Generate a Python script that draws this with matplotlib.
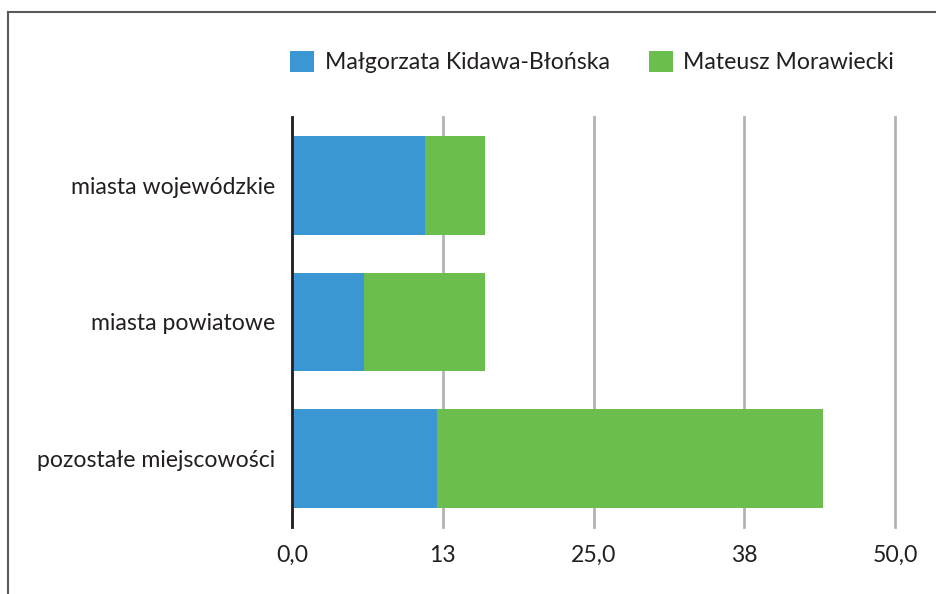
import matplotlib
matplotlib.use("Agg")
import matplotlib.pyplot as plt
from matplotlib.lines import Line2D

categories = ["miasta wojewódzkie", "miasta powiatowe", "pozostałe miejscowości"]
kidawa = [11, 6, 12]
morawiecki = [5, 10, 32]
series_names = ["Małgorzata Kidawa-Błońska", "Mateusz Morawiecki"]
xticks = [0, 12.5, 25, 37.5, 50]
xtick_labels = ["0,0", "13", "25,0", "38", "50,0"]

BLUE = "#3A97D4"
GREEN = "#6BBD4E"
GRID = "#B3B3B6"
TXT = "#231F20"

plt.rcParams['font.family'] = ['Lato', 'DejaVu Sans']
FS = 16.6

fig = plt.figure(figsize=(9.37, 5.94), dpi=100)
ax = fig.add_axes([292/937, 1-527/594, (895-292)/937, (527-117)/594])

y = list(range(len(categories)))
ax.barh(y, kidawa, height=0.72, color=BLUE, zorder=3, label=series_names[0])
ax.barh(y, morawiecki, left=kidawa, height=0.72, color=GREEN, zorder=3, label=series_names[1])

ax.set_xlim(0, 50)
ax.set_ylim(2.5, -0.5)
ax.set_yticks(y)
ax.set_yticklabels(categories, fontsize=FS, color=TXT)
ax.set_xticks(xticks)
ax.set_xticklabels(xtick_labels, fontsize=FS, color=TXT)
ax.tick_params(axis='both', length=0)
ax.tick_params(axis='x', pad=13)
ax.tick_params(axis='y', pad=12)
ax.xaxis.grid(True, color=GRID, linewidth=2, zorder=0)
for gl in ax.get_xgridlines():
    gl.set_clip_on(False)
for s in ["top", "right", "bottom"]:
    ax.spines[s].set_visible(False)
ax.spines["left"].set_color("#231F20")
ax.spines["left"].set_linewidth(2)
ax.spines["left"].set_zorder(4)

leg = fig.legend(loc="center", bbox_to_anchor=(592/937, 1-62/594), ncol=2, frameon=False,
                 fontsize=FS, handlelength=1.05, handleheight=1.05, handletextpad=0.45,
                 columnspacing=1.7, labelcolor=TXT)

# outer frame (cropped at right and bottom)
fig.add_artist(Line2D([8/937, 1.0], [1-12/594, 1-12/594], transform=fig.transFigure, color="#5A5A5A", linewidth=1.5))
fig.add_artist(Line2D([8/937, 8/937], [0, 1-12/594], transform=fig.transFigure, color="#5A5A5A", linewidth=1.5))

fig.savefig("out.png", dpi=100, facecolor="white")
